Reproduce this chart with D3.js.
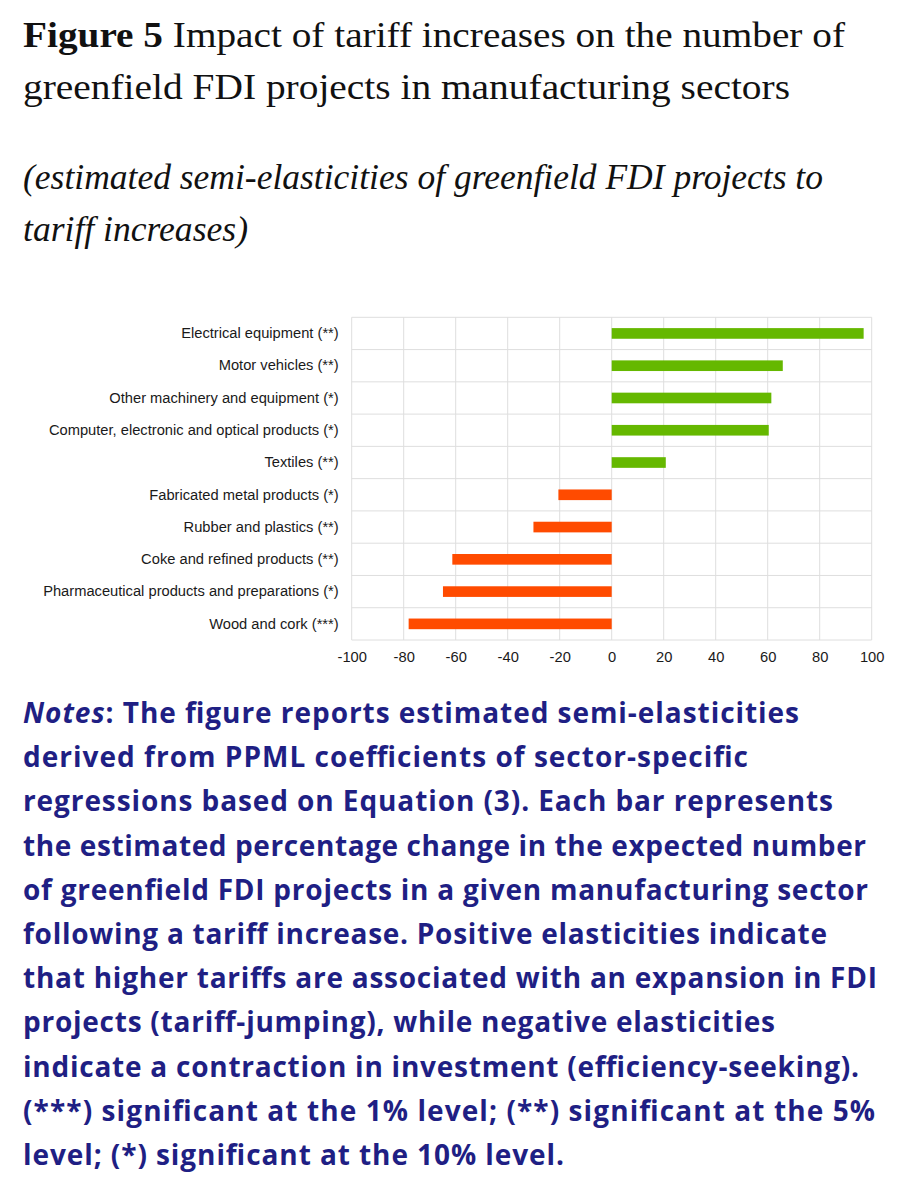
<!DOCTYPE html>
<html>
<head>
<meta charset="utf-8">
<script src="https://cdn.jsdelivr.net/npm/d3@7"></script>
<style>
  body { margin: 0; background: #fff; }
</style>
</head>
<body>
<div id="figure"></div>
<script>
const sectors = [
  'Electrical equipment (**)',
  'Motor vehicles (**)',
  'Other machinery and equipment (*)',
  'Computer, electronic and optical products (*)',
  'Textiles (**)',
  'Fabricated metal products (*)',
  'Rubber and plastics (**)',
  'Coke and refined products (**)',
  'Pharmaceutical products and preparations (*)',
  'Wood and cork (***)'
];
const semiElasticities = [96.9, 65.8, 61.4, 60.4, 20.8, -20.5, -30.1, -61.3, -64.9, -78.1];
const xTicks = [-100, -80, -60, -40, -20, 0, 20, 40, 60, 80, 100];

const titleBold = 'Figure 5';
const titleLines = [
  ' Impact of tariff increases on the number of',
  'greenfield FDI projects in manufacturing sectors'
];
const subtitleLines = [
  '(estimated semi-elasticities of greenfield FDI projects to',
  'tariff increases)'
];
const notesLead = 'Notes';
const notesLines = [
  ': The figure reports estimated semi-elasticities',
  'derived from PPML coefficients of sector-specific',
  'regressions based on Equation (3). Each bar represents',
  'the estimated percentage change in the expected number',
  'of greenfield FDI projects in a given manufacturing sector',
  'following a tariff increase. Positive elasticities indicate',
  'that higher tariffs are associated with an expansion in FDI',
  'projects (tariff-jumping), while negative elasticities',
  'indicate a contraction in investment (efficiency-seeking).',
  '(***) significant at the 1% level; (**) significant at the 5%',
  'level; (*) significant at the 10% level.'
];

const width = 913;
const height = 1200;
const left = 23;

// right edge of each wrapped line, as measured on the original
const titleEnds = [845, 790];
const subtitleEnds = [823, 248];
const notesEnds = [799, 748, 833, 866, 868, 827, 877, 775, 859, 875, 564];

const svg = d3.select('#figure').append('svg')
    .attr('width', width)
    .attr('height', height);

displayHeading(svg);
displayChart(svg);
displayNotes(svg);

function displayHeading(svg) {
  const serif = '"Liberation Serif", "Times New Roman", serif';

  titleLines.forEach((line, i) => {
    const t = svg.append('text')
        .attr('x', left)
        .attr('y', 47 + i * 52)
        .attr('textLength', titleEnds[i] - left)
        .attr('lengthAdjust', 'spacingAndGlyphs')
        .style('font-family', serif)
        .style('font-size', '36px')
        .style('fill', '#111');
    if (i === 0) {
      t.append('tspan').text(titleBold).style('font-weight', 'bold');
    }
    t.append('tspan').text(line);
  });

  // Subtitle
  subtitleLines.forEach((line, i) => {
    svg.append('text')
        .text(line)
        .attr('x', left)
        .attr('y', 189 + i * 52)
        .attr('textLength', subtitleEnds[i] - left)
        .attr('lengthAdjust', 'spacingAndGlyphs')
        .style('font-family', serif)
        .style('font-style', 'italic')
        .style('font-size', '35px')
        .style('fill', '#111');
  });
}

function displayChart(svg) {
  const plot = { left: 351.7, right: 871.7, top: 317.3, bottom: 640 };

  const xScale = d3.scaleLinear([-100, 100], [plot.left, plot.right]);
  const yScale = d3.scaleBand(sectors, [plot.top, plot.bottom]);
  const barHeight = yScale.bandwidth() * 0.33;
  const grid = '#dedede';
  const labelFont = '"Liberation Sans", Arial, sans-serif';

  const g = svg.append('g');

  // Vertical grid lines
  g.selectAll('.v-grid')
    .data(xTicks)
    .join('line')
      .attr('class', 'v-grid')
      .attr('x1', d => xScale(d))
      .attr('x2', d => xScale(d))
      .attr('y1', plot.top)
      .attr('y2', plot.bottom)
      .style('stroke', grid)
      .style('stroke-width', 1);

  // Horizontal grid lines at row boundaries
  const rowEdges = sectors.map(s => yScale(s)).concat([plot.bottom]);
  g.selectAll('.h-grid')
    .data(rowEdges)
    .join('line')
      .attr('class', 'h-grid')
      .attr('x1', plot.left)
      .attr('x2', plot.right)
      .attr('y1', d => d)
      .attr('y2', d => d)
      .style('stroke', grid)
      .style('stroke-width', 1);

  // Bars
  g.selectAll('.bar')
    .data(sectors.map((s, i) => ({ sector: s, value: semiElasticities[i] })))
    .join('rect')
      .attr('class', 'bar')
      .attr('x', d => xScale(Math.min(0, d.value)))
      .attr('width', d => Math.abs(xScale(d.value) - xScale(0)))
      .attr('y', d => yScale(d.sector) + (yScale.bandwidth() - barHeight) / 2)
      .attr('height', barHeight)
      .style('fill', d => d.value >= 0 ? '#65b800' : '#ff4b00');

  // Category labels
  const yAxis = d3.axisLeft(yScale).tickSize(0).tickPadding(13);
  g.append('g')
      .attr('transform', `translate(${plot.left}, 0)`)
      .call(yAxis)
      .call(a => a.select('.domain').remove())
      .selectAll('text')
      .style('font-family', labelFont)
      .style('font-size', '14.7px')
      .style('fill', '#1a1a1a');

  // Value axis
  const xAxis = d3.axisBottom(xScale)
      .tickValues(xTicks)
      .tickFormat(d => String(d))
      .tickSize(0)
      .tickPadding(12);
  g.append('g')
      .attr('transform', `translate(0, ${plot.bottom})`)
      .call(xAxis)
      .call(a => a.select('.domain').remove())
      .selectAll('text')
      .style('font-family', labelFont)
      .style('font-size', '14.7px')
      .style('fill', '#1a1a1a');
}

function displayNotes(svg) {
  const color = '#1f1f84';

  notesLines.forEach((line, i) => {
    const t = svg.append('text')
        .attr('x', left)
        .attr('y', 723 + i * 44.2)
        .attr('textLength', notesEnds[i] - left)
        .attr('lengthAdjust', 'spacing')
        .style('font-family', '"Open Sans", "Noto Sans", sans-serif')
        .style('font-weight', 'bold')
        .style('font-size', '28px')
        .style('fill', color);
    if (i === 0) {
      t.append('tspan').text(notesLead).style('font-style', 'italic');
    }
    t.append('tspan').text(line);
  });
}
</script>
</body>
</html>
